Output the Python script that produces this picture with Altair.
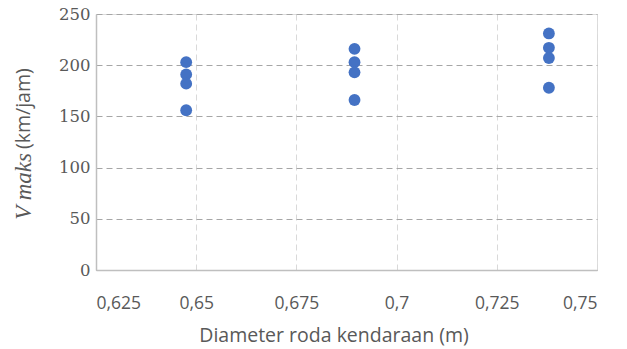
import altair as alt
import pandas as pd

diameter = [0.6475, 0.6475, 0.6475, 0.6475,
            0.6895, 0.6895, 0.6895, 0.6895,
            0.738, 0.738, 0.738, 0.738]
vmaks = [203, 191, 182, 156,
         216, 203, 193, 166,
         231, 217, 207, 178]
x_ticks = [0.625, 0.65, 0.675, 0.7, 0.725, 0.75]
y_ticks = [0, 50, 100, 150, 200, 250]

df = pd.DataFrame({"d": diameter, "v": vmaks})

W, H = 501, 256

points = alt.Chart(df).mark_circle(size=140, color="#4472C4", opacity=1).encode(
    x=alt.X("d:Q", scale=alt.Scale(domain=[0.625, 0.75], nice=False, zero=False),
            axis=alt.Axis(values=x_ticks, title="Diameter roda kendaraan (m)",
                          labelExpr="replace(format(datum.value, '~g'), '.', ',')",
                          grid=True, gridColor="#d9d9d9", gridDash=[6, 4], gridWidth=1,
                          domainColor="#bfbfbf", domainWidth=1.5, ticks=False,
                          labelFont="Open Sans", labelFontSize=17.5, labelColor="#595959",
                          labelPadding=24, titleFont="Open Sans", titleFontSize=19.5,
                          titleFontWeight="normal", titleColor="#595959", titlePadding=15,
                          titleX=237.5, titleAlign="center")),
    y=alt.Y("v:Q", scale=alt.Scale(domain=[0, 250], nice=False),
            axis=alt.Axis(values=y_ticks, title=None,
                          grid=True, gridColor="#a6a6a6", gridDash=[6, 4], gridWidth=1,
                          domainColor="#bfbfbf", domainWidth=1.5, ticks=False,
                          labelFont="DejaVu Serif", labelFontSize=16.5, labelColor="#595959",
                          labelPadding=6)),
)

t1 = alt.Chart(pd.DataFrame({"t": ["V maks"]})).mark_text(
    angle=270, align="right", baseline="middle", font="Liberation Serif",
    fontStyle="italic", fontSize=23, color="#595959"
).encode(text="t:N", x=alt.value(-72), y=alt.value(139))

t2 = alt.Chart(pd.DataFrame({"t": ["(km/jam)"]})).mark_text(
    angle=270, align="left", baseline="middle", font="Open Sans",
    fontSize=19.5, color="#595959"
).encode(text="t:N", x=alt.value(-72), y=alt.value(135))

chart = alt.layer(points, t1, t2).properties(
    width=W, height=H,
    autosize=alt.AutoSizeParams(type="none"),
    padding={"left": 88, "top": 6, "right": 22, "bottom": 79},
).configure_view(stroke=None).configure(background="white")

chart.save("out.html", embed_options={"renderer": "svg", "actions": False})
